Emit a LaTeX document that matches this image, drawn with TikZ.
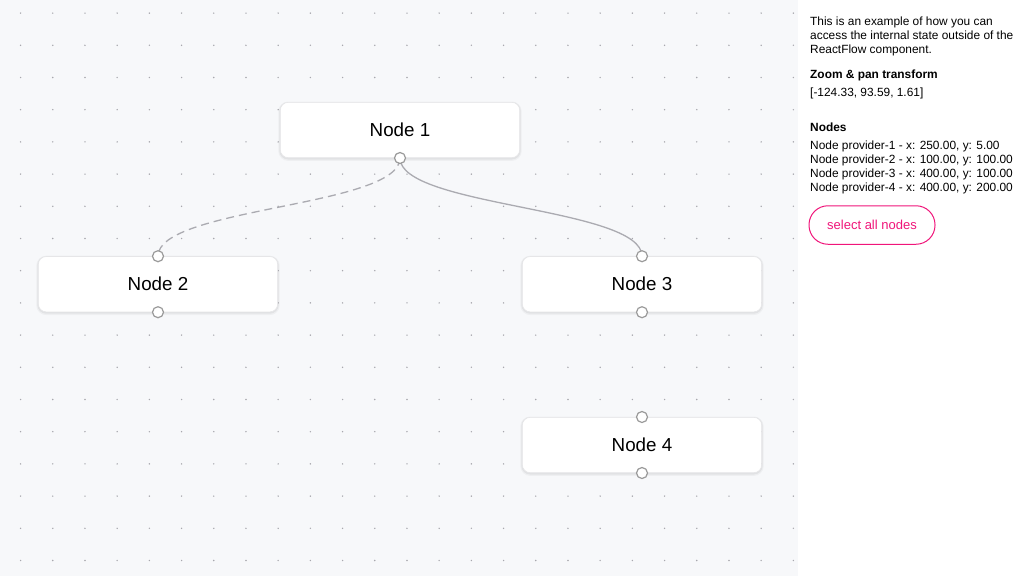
\documentclass[tikz,border=0pt]{standalone}
\usepackage{fontspec}
\setmainfont{Liberation Sans}
\definecolor{canvasbg}{HTML}{F7F8FA}
\definecolor{dotc}{HTML}{A8A8AE}
\definecolor{edgec}{HTML}{ABABB1}
\definecolor{handlec}{HTML}{9A9A9A}
\definecolor{nodeborder}{HTML}{E6E6E8}
\definecolor{btnpink}{HTML}{F0157A}
\begin{document}
\begin{tikzpicture}[x=1pt,y=-1pt,
  flownode/.style={draw=nodeborder, line width=0.6pt, fill=white, rounded corners=8pt,
    minimum width=239.4pt, minimum height=55.4pt, inner sep=0pt,
    font=\fontsize{18.8}{22}\selectfont,
    preaction={draw=black, draw opacity=0.035, line width=4pt, transform canvas={yshift=-1.2pt}},
    preaction={draw=black, draw opacity=0.05, line width=2pt, transform canvas={yshift=-0.8pt}}},
  handle/.style={circle, draw=handlec, line width=1.2pt, fill=white, minimum size=11pt, inner sep=0pt},
  edgeline/.style={draw=edgec, line width=1.3pt},
  dashedge/.style={edgeline, dash pattern=on 8pt off 5pt},
  sidetext/.style={anchor=base west, inner sep=0pt, font=\fontsize{11.9}{14}\selectfont},
  sidehead/.style={sidetext, font=\fontsize{11.9}{14}\selectfont\bfseries},
  button/.style={draw=btnpink, line width=1pt, rounded corners=19pt, text=btnpink,
    minimum width=126pt, minimum height=38.5pt, inner sep=0pt, font=\fontsize{13}{15}\selectfont}
]
\useasboundingbox (0,0) rectangle (1024,576);
\fill[canvasbg] (0,0) rectangle (798,576);
\fill[white] (798,0) rectangle (1024,576);
\foreach \i in {0,...,24} {
  \foreach \j in {0,...,17} {
    \fill[dotc] ({20.57+32.2*\i},{13.09+32.2*\j}) circle (0.8pt);
  }
}
% nodes
\node[flownode] (n1) at (400,130) {Node 1};
\node[flownode] (n2) at (158,284.2) {Node 2};
\node[flownode] (n3) at (642,284.2) {Node 3};
\node[flownode] (n4) at (642,445) {Node 4};
% handle positions
\coordinate (h1b) at (n1.south);
\coordinate (h2t) at (n2.north);
\coordinate (h2b) at (n2.south);
\coordinate (h3t) at (n3.north);
\coordinate (h3b) at (n3.south);
\coordinate (h4t) at (n4.north);
\coordinate (h4b) at (n4.south);
% edges
\draw[dashedge] (h1b) .. controls +(0,49) and +(0,-49) .. (h2t);
\draw[edgeline] (h1b) .. controls +(0,49) and +(0,-49) .. (h3t);
% handles
\foreach \h in {h1b,h2t,h2b,h3t,h3b,h4t,h4b} {
  \node[handle] (c\h) at (\h) {};
}
% sidebar
\node[sidetext] (s1) at (810,25.7) {This is an example of how you can};
\node[sidetext] (s2) at (810,39.5) {access the internal state outside of the};
\node[sidetext] (s3) at (810,53.3) {ReactFlow component.};
\node[sidehead] (s4) at (810,78.3) {Zoom \& pan transform};
\node[sidetext] (s5) at (810,96) {[-124.33, 93.59, 1.61]};
\node[sidehead] (s6) at (810,131) {Nodes};
\node[sidetext] (s7) at (810,149.6) {Node provider-1 - x: 250.00, y: 5.00};
\node[sidetext] (s8) at (810,163.6) {Node provider-2 - x: 100.00, y: 100.00};
\node[sidetext] (s9) at (810,177.6) {Node provider-3 - x: 400.00, y: 100.00};
\node[sidetext] (s10) at (810,191.6) {Node provider-4 - x: 400.00, y: 200.00};
\node[button] (btn) at (872,225) {select all nodes};
\end{tikzpicture}
\end{document}
